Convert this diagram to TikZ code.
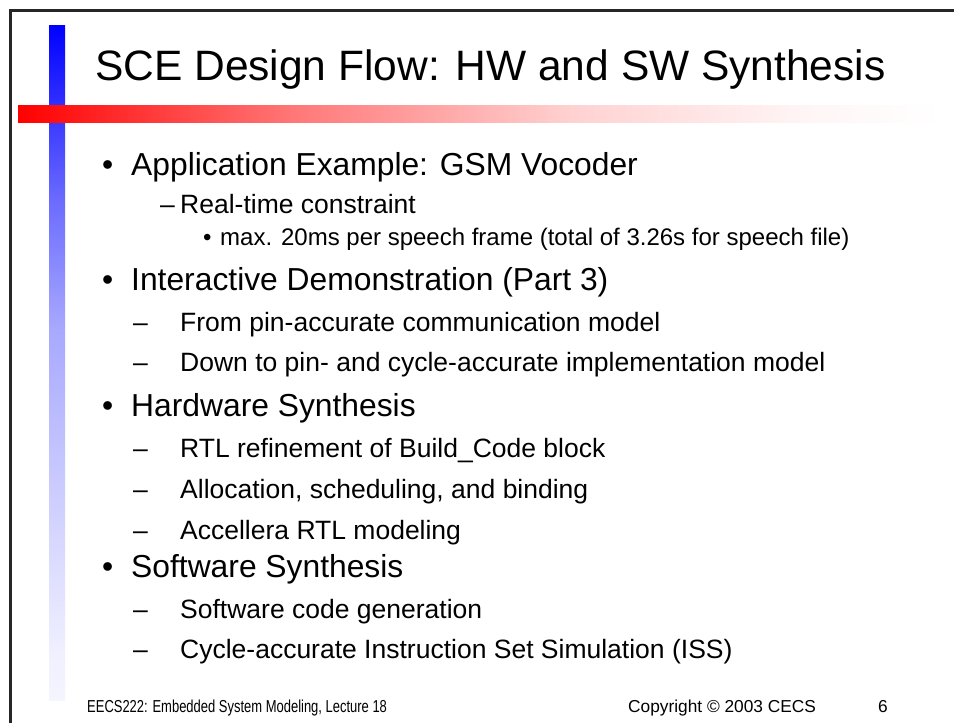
\documentclass[tikz,border=0pt]{standalone}
\usepackage{fontspec}
\setmainfont{Liberation Sans}
\pgfdeclarehorizontalshading{redfade}{100bp}{color(0bp)=(red); color(25bp)=(red); color(40bp)=(red!53); color(55bp)=(red!18); color(67.5bp)=(red!4); color(75bp)=(white); color(100bp)=(white)}
\pgfdeclareverticalshading{bluefade}{100bp}{color(0bp)=(blue!4); color(25bp)=(blue!4); color(28.5bp)=(blue!6); color(52.5bp)=(blue!34); color(62bp)=(blue!58); color(75bp)=(blue); color(100bp)=(blue)}
\tikzset{
  txt/.style={inner sep=0pt, anchor=base west, text=black},
  ttl/.style={txt, font=\fontsize{42.5}{50}\selectfont},
  lvone/.style={txt, font=\fontsize{31.8}{38}\selectfont},
  lvtwo/.style={txt, font=\fontsize{26.5}{32}\selectfont},
  lvthree/.style={txt, font=\fontsize{24}{29}\selectfont},
  foot/.style={txt, font=\fontsize{17.3}{20}\selectfont},
}
\begin{document}
\begin{tikzpicture}[x=1pt,y=-1pt]
\useasboundingbox (0,0) rectangle (954,723);
\fill[white] (0,0) rectangle (954,723);
% frame
\fill[black!85] (9,9) rectangle (954,12);
\fill[black!85] (9,9) rectangle (12,723);
% bars
\shade[shading=bluefade] (49,25) rectangle (65,700);
\shade[shading=redfade] (18,105) rectangle (940,122);
% title
\node[ttl] (title) at (95,80) {SCE Design Flow: HW and SW Synthesis};
% items
\node[lvone] (b1) at (102,175) {•};
\node[lvone] (t1) at (131,175) {Application Example: GSM Vocoder};
\node[lvtwo] (d11) at (160,213) {–};
\node[lvtwo] (t11) at (180,213) {Real-time constraint};
\node[lvthree] (b111) at (203,245) {•};
\node[lvthree] (t111) at (220,245) {max. 20ms per speech frame (total of 3.26s for speech file)};
\node[lvone] (b2) at (102,290) {•};
\node[lvone] (t2) at (131,290) {Interactive Demonstration (Part 3)};
\node[lvtwo] (d21) at (133,331) {–};
\node[lvtwo] (t21) at (180,331) {From pin-accurate communication model};
\node[lvtwo] (d22) at (133,371) {–};
\node[lvtwo] (t22) at (180,371) {Down to pin- and cycle-accurate implementation model};
\node[lvone] (b3) at (102,416) {•};
\node[lvone] (t3) at (131,416) {Hardware Synthesis};
\node[lvtwo] (d31) at (133,457) {–};
\node[lvtwo] (t31) at (180,457) {RTL refinement of Build\_Code block};
\node[lvtwo] (d32) at (133,498) {–};
\node[lvtwo] (t32) at (180,498) {Allocation, scheduling, and binding};
\node[lvtwo] (d33) at (133,539) {–};
\node[lvtwo] (t33) at (180,539) {Accellera RTL modeling};
\node[lvone] (b4) at (102,577) {•};
\node[lvone] (t4) at (131,577) {Software Synthesis};
\node[lvtwo] (d41) at (133,618) {–};
\node[lvtwo] (t41) at (180,618) {Software code generation};
\node[lvtwo] (d42) at (133,658) {–};
\node[lvtwo] (t42) at (180,658) {Cycle-accurate Instruction Set Simulation (ISS)};
% footer
\node[foot] (f1) at (87,712) {\scalebox{0.75}[1]{EECS222: Embedded System Modeling, Lecture 18}};
\node[foot] (f2) at (628,712) {Copyright © 2003 CECS};
\node[foot] (f3) at (878,712) {6};
\end{tikzpicture}
\end{document}
